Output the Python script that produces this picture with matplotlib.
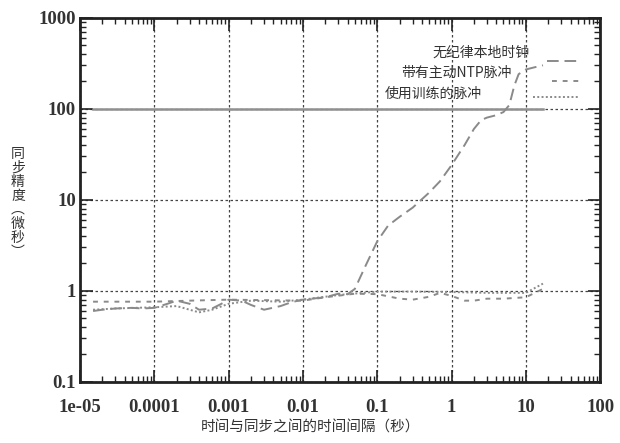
import matplotlib
matplotlib.use("Agg")
import matplotlib.pyplot as plt
from matplotlib.lines import Line2D
from matplotlib.ticker import LogLocator, FixedLocator, FixedFormatter, NullFormatter

plt.rcParams['font.family'] = ['Noto Sans CJK SC', 'DejaVu Sans']

# --- data ---
ref_x = [1.5e-5, 17]
ref_y = [100, 100]

local_x = [1.5e-5, 2e-5, 3e-5, 5e-5, 7e-5, 1e-4, 1.5e-4, 2e-4, 3e-4, 4e-4, 6e-4,
           8e-4, 1e-3, 1.5e-3, 2e-3, 3e-3, 5e-3, 7e-3, 1e-2, 2e-2, 3e-2, 4e-2,
           5e-2, 7e-2, 0.1, 0.14, 0.2, 0.3, 0.5, 0.7, 1, 1.5, 2, 2.5, 3, 4, 5,
           6, 7, 8, 10, 13, 17]
local_y = [0.6, 0.62, 0.64, 0.65, 0.64, 0.65, 0.72, 0.78, 0.72, 0.62, 0.64,
           0.72, 0.8, 0.78, 0.7, 0.62, 0.68, 0.75, 0.8, 0.85, 0.93, 0.92,
           1.05, 1.9, 3.5, 5.2, 6.5, 8.2, 12, 16, 24, 40, 60, 75, 80, 85, 92,
           110, 180, 240, 270, 285, 300]

ntp_x = [1.5e-5, 3e-5, 1e-4, 3e-4, 1e-3, 3e-3, 1e-2, 2e-2, 5e-2, 0.1, 0.2,
         0.3, 0.5, 0.7, 1, 1.5, 2, 3, 5, 10, 17]
ntp_y = [0.76, 0.76, 0.76, 0.78, 0.8, 0.79, 0.78, 0.85, 0.93, 0.92, 0.82,
         0.8, 0.86, 0.95, 0.88, 0.78, 0.78, 0.82, 0.82, 0.85, 1.05]

train_x = [1.5e-5, 3e-5, 1e-4, 2e-4, 4e-4, 6e-4, 1e-3, 2e-3, 5e-3, 1e-2,
           3e-2, 0.1, 0.3, 1, 3, 10, 17]
train_y = [0.62, 0.64, 0.66, 0.68, 0.58, 0.62, 0.72, 0.78, 0.76, 0.8,
           0.9, 0.98, 0.98, 0.97, 0.95, 0.95, 1.2]

x_ticks = [1e-5, 1e-4, 1e-3, 1e-2, 1e-1, 1, 10, 100]
x_labels = ['1e-05', '0.0001', '0.001', '0.01', '0.1', '1', '10', '100']
y_ticks = [0.1, 1, 10, 100, 1000]
y_labels = ['0.1', '1', '10', '100', '1000']

labels = ['无纪律本地时钟', '带有主动NTP脉冲', '使用训练的脉冲']

fig = plt.figure(figsize=(6.2, 4.43), dpi=100)
ax = fig.add_axes([0.129, 0.138, 0.839, 0.822])

gray = '#8a8a8a'
styles = [(6, 3), (2.5, 3), (1, 1.2)]
ax.plot(ref_x, ref_y, '-', color='#909090', lw=1.8)
ax.plot(local_x, local_y, color=gray, lw=1.4, dashes=styles[0])
ax.plot(ntp_x, ntp_y, color=gray, lw=1.4, dashes=styles[1])
ax.plot(train_x, train_y, color=gray, lw=1.4, dashes=styles[2])

ax.set_xscale('log')
ax.set_yscale('log')
ax.set_xlim(1e-5, 100)
ax.set_ylim(0.1, 1000)

ax.xaxis.set_major_locator(FixedLocator(x_ticks))
ax.xaxis.set_major_formatter(FixedFormatter(x_labels))
ax.yaxis.set_major_locator(FixedLocator(y_ticks))
ax.yaxis.set_major_formatter(FixedFormatter(y_labels))
ax.xaxis.set_minor_locator(LogLocator(base=10, subs=(2, 3, 4, 5, 6, 7, 8, 9)))
ax.yaxis.set_minor_locator(LogLocator(base=10, subs=(2, 3, 4, 5, 6, 7, 8, 9)))
ax.xaxis.set_minor_formatter(NullFormatter())
ax.yaxis.set_minor_formatter(NullFormatter())

ax.tick_params(which='both', direction='in', top=True, right=True, color='#222222')
ax.tick_params(which='major', length=9, width=1.2)
ax.tick_params(which='minor', length=4, width=1.0)
ax.tick_params(axis='x', which='major', pad=12)
ax.tick_params(axis='y', which='major', pad=3)
for lab in ax.get_xticklabels() + ax.get_yticklabels():
    lab.set_fontfamily('Liberation Serif')
    lab.set_fontsize(13.5)
    lab.set_fontweight('bold')
    lab.set_color('#333333')

for s in ax.spines.values():
    s.set_linewidth(2.0)
    s.set_color('#222222')

ax.grid(True, which='major', linestyle=(0, (2, 2)), color='#444444', lw=0.9)

# key drawn by hand: in the reference the labels are staggered, not aligned
key_text_pos = [(0.677, 0.904), (0.617, 0.849), (0.585, 0.791)]
key_line_pos = [(0.898, 0.882), (0.908, 0.827), (0.871, 0.783)]
for label, dash, (tx, ty), (lx, ly) in zip(labels, styles, key_text_pos, key_line_pos):
    ax.text(tx, ty, label, transform=ax.transAxes, ha='left', va='center',
            fontsize=10, color='#333333')
    ax.add_line(Line2D([lx, 0.962], [ly, ly], transform=ax.transAxes,
                       color=gray, lw=1.4, dashes=dash))

fig.text(0.029, 0.542, '同\n步\n精\n度\n︵\n微\n秒\n︶', ha='center', va='center',
         fontsize=10, linespacing=1.0, color='#333333')
fig.text(0.5, 0.035, '时间与同步之间的时间间隔（秒）', ha='center', va='center',
         fontsize=10.5, color='#333333')

fig.savefig('out.png', dpi=100)
